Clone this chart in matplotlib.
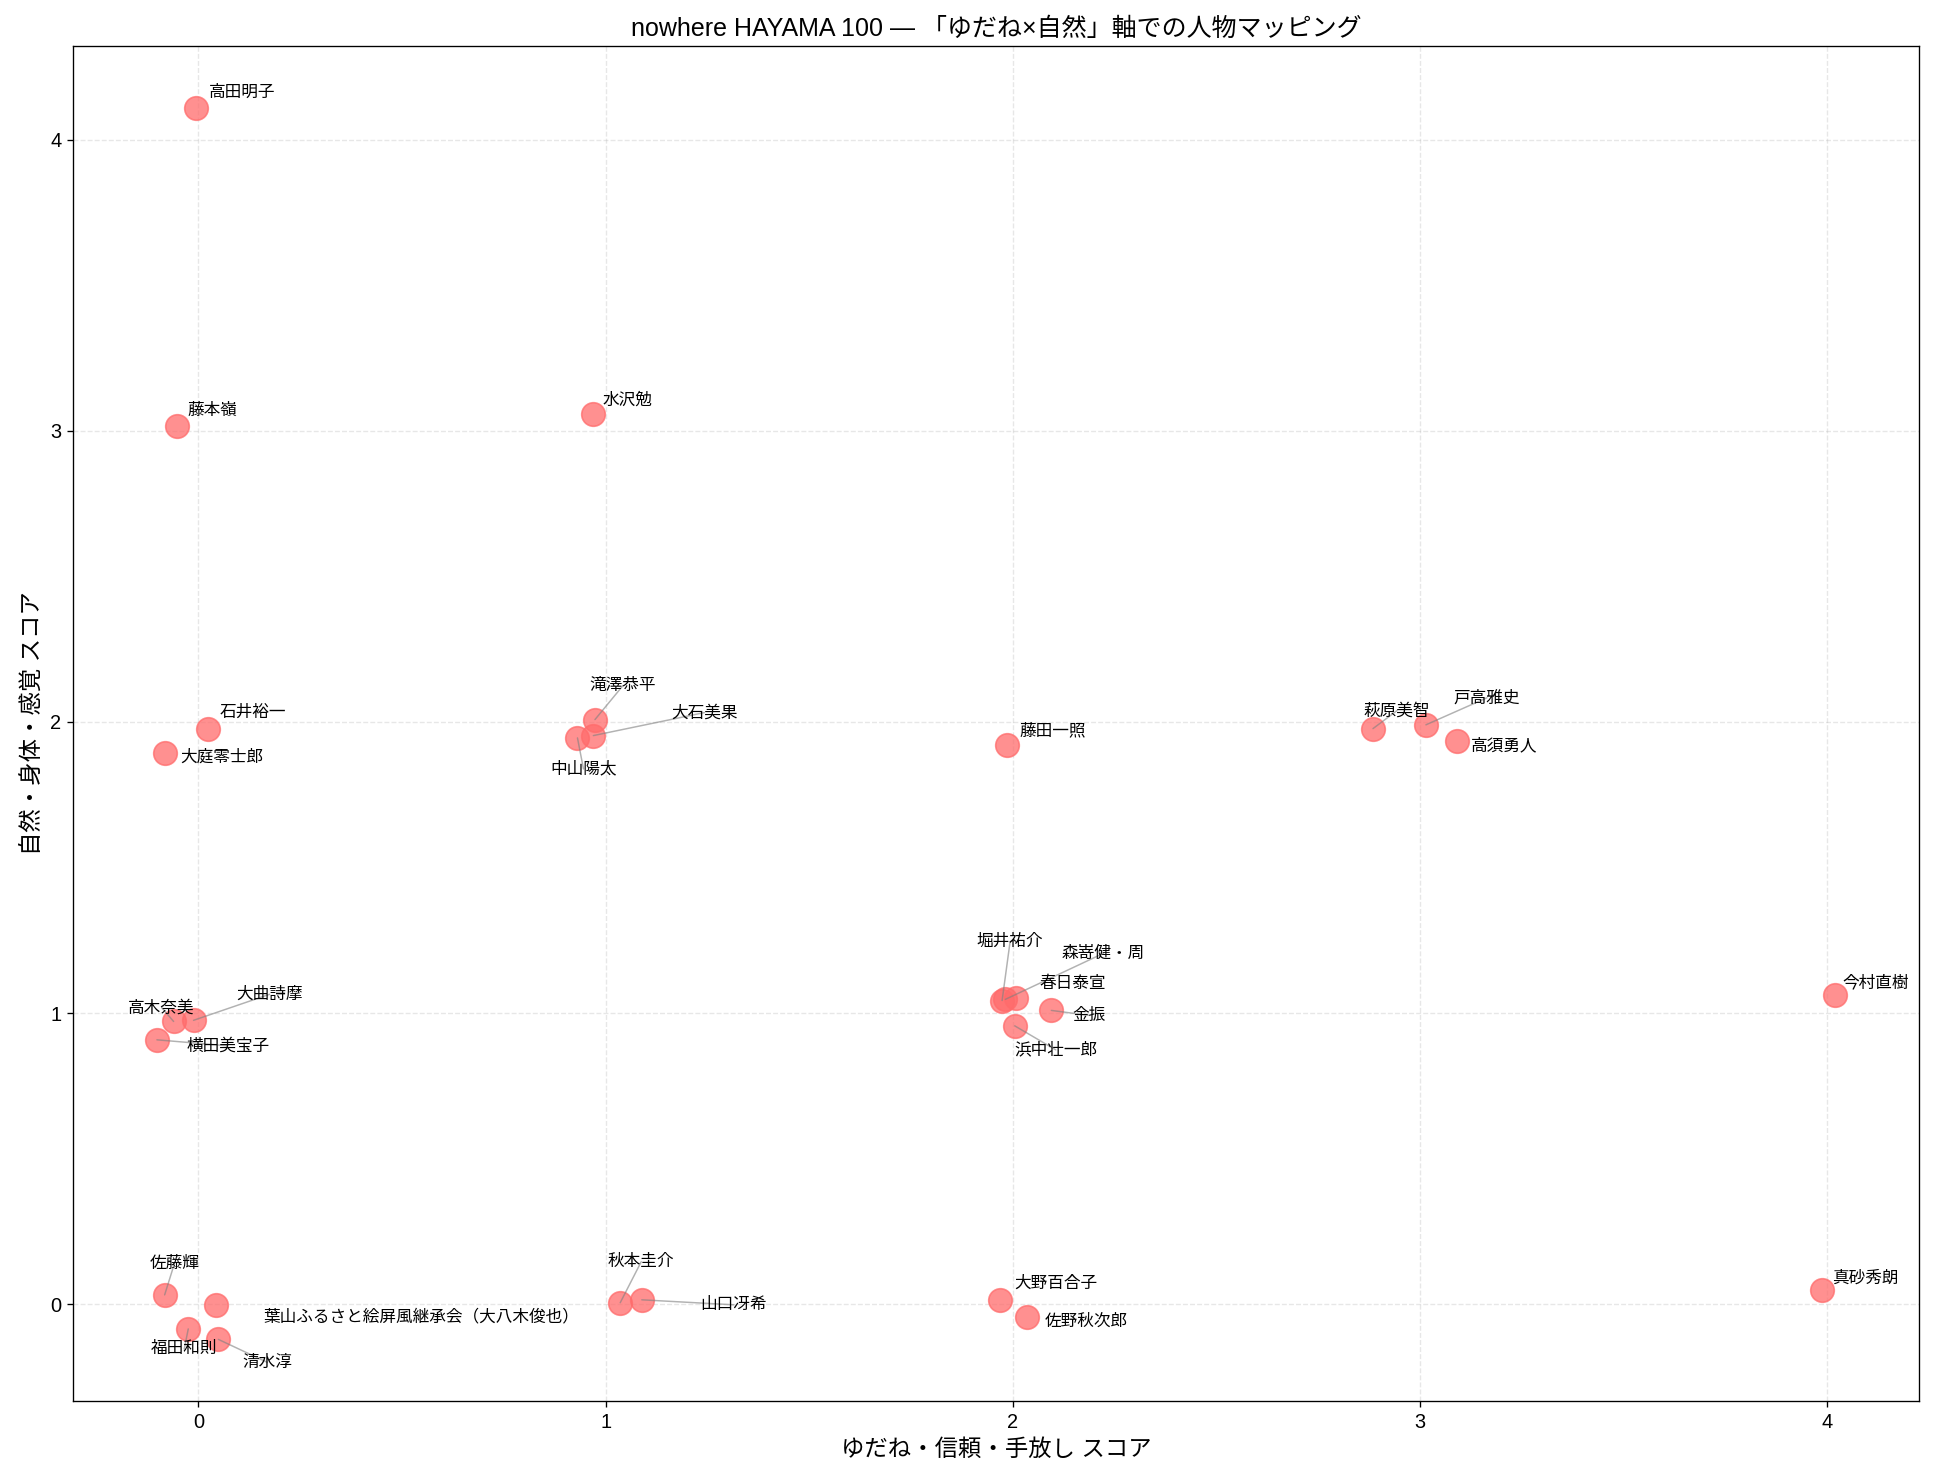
import matplotlib
matplotlib.use("Agg")
from matplotlib import pyplot as plt

plt.rcParams['font.family'] = ['Liberation Sans', 'Noto Sans CJK JP', 'DejaVu Sans']

# names and scores (yudane / nature)
names = ['高田明子', '藤本嶺', '水沢勉', '石井裕一', '大庭零士郎', '滝澤恭平', '大石美果', '中山陽太',
         '藤田一照', '萩原美智', '戸高雅史', '高須勇人', '堀井祐介', '森嵜健・周', '春日泰宣', '金振',
         '浜中壮一郎', '今村直樹', '真砂秀朗', '高木奈美', '大曲詩摩', '横田美宝子', '佐藤輝',
         '葉山ふるさと絵屏風継承会（大八木俊也）', '福田和則', '清水淳', '秋本圭介', '山口冴希',
         '大野百合子', '佐野秋次郎']
yudane = [-0.005, -0.052, 0.969, 0.024, -0.082, 0.974, 0.970, 0.931,
          1.987, 2.885, 3.015, 3.092, 1.974, 1.982, 2.007, 2.095,
          2.005, 4.020, 3.987, -0.061, -0.012, -0.102, -0.083,
          0.042, -0.025, 0.049, 1.036, 1.089,
          1.970, 2.035]
nature = [4.110, 3.018, 3.059, 1.975, 1.894, 2.008, 1.953, 1.945,
          1.922, 1.977, 1.990, 1.933, 1.043, 1.047, 1.051, 1.009,
          0.956, 1.061, 0.047, 0.971, 0.975, 0.908, 0.032,
          -0.002, -0.085, -0.121, 0.005, 0.015,
          0.015, -0.045]

# label placement (pixel offsets of label centre) and whether a leader line is drawn
label_dx = [46, 35, 35, 45, 57, 28, 111, 6,
            45, 24, 61, 47, 8, 98, 57, 38,
            41, 41, 44, -12, 76, 71, 10,
            206, -4, 49, 21, 92,
            55, 59]
label_dy = [15, 15, 14, 17, -4, 34, 23, -31,
            14, 18, 27, -4, 59, 46, 15, -5,
            -24, 13, 13, 14, 26, -6, 32,
            -12, -20, -23, 41, -5,
            17, -4]
leader = [False, False, False, False, False, True, True, True,
          False, True, True, False, True, True, False, True,
          True, False, False, True, True, True, True,
          False, True, True, True, True,
          False, False]

fig = plt.figure(figsize=(1934 / 120, 1481 / 120), dpi=120)
ax = fig.add_axes([73 / 1934, 1 - 1401 / 1481, (1919 - 73) / 1934, (1401 - 46) / 1481])

ax.scatter(yudane, nature, s=200, color='#FF6B6B', alpha=0.75, zorder=3)

for i in range(len(names)):
    arrow = None
    if leader[i]:
        arrow = dict(arrowstyle='-', color='gray', alpha=0.6, lw=0.9,
                     patchA=None, shrinkA=0, shrinkB=0)
    ax.annotate(names[i], (yudane[i], nature[i]), xytext=(label_dx[i], label_dy[i]),
                textcoords='offset pixels', ha='center', va='center', fontsize=10,
                arrowprops=arrow, zorder=4)

ax.set_title('nowhere HAYAMA 100 — 「ゆだね×自然」軸での人物マッピング', fontsize=15)
ax.set_xlabel('ゆだね・信頼・手放し スコア', fontsize=14)
ax.set_ylabel('自然・身体・感覚 スコア', fontsize=14)
ax.grid(True, linestyle='--', alpha=0.3)
ax.set_xticks([0, 1, 2, 3, 4])
ax.set_yticks([0, 1, 2, 3, 4])
ax.tick_params(labelsize=12)

fig.savefig('out.png', dpi=120)
